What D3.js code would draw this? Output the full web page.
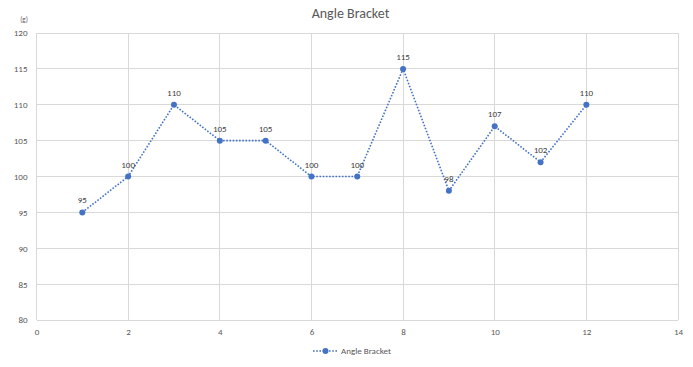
<!DOCTYPE html>
<html>
<head>
<meta charset="utf-8">
<script src="https://cdn.jsdelivr.net/npm/d3@7"></script>
<style>
  body { margin: 0; background: #fff; }
  svg { display: block; font-family: Calibri, Carlito, "Open Sans", "Liberation Sans", sans-serif; }
</style>
</head>
<body>
<svg id="chart" width="693" height="367"></svg>
<script>
// Weight measurements of the angle bracket, per sample number
const samples = [1, 2, 3, 4, 5, 6, 7, 8, 9, 10, 11, 12];
const weights = [95, 100, 110, 105, 105, 100, 100, 115, 98, 107, 102, 110];
const xTicks = [0, 2, 4, 6, 8, 10, 12, 14];
const yTicks = [80, 85, 90, 95, 100, 105, 110, 115, 120];
const seriesName = "Angle Bracket";
const unitLabel = "(g)";

const svg = d3.select("#chart");
const W = 693, H = 367;
const m = { left: 36.5, right: 15, top: 33, bottom: 47 };

const x = d3.scaleLinear().domain([0, 14]).range([m.left, W - m.right]);
const y = d3.scaleLinear().domain([80, 120]).range([H - m.bottom, m.top]);

const gridColor = "#d9d9d9";
const textColor = "#595959";
const lineColor = "#4472C4";

// Gridlines
svg.append("g").selectAll("line.h").data(yTicks).join("line")
  .attr("x1", x(0)).attr("x2", x(14))
  .attr("y1", d => y(d)).attr("y2", d => y(d))
  .attr("stroke", gridColor).attr("stroke-width", 1)
  .attr("shape-rendering", "crispEdges");
svg.append("g").selectAll("line.v").data(xTicks).join("line")
  .attr("x1", d => x(d)).attr("x2", d => x(d))
  .attr("y1", y(80)).attr("y2", y(120))
  .attr("stroke", gridColor).attr("stroke-width", 1)
  .attr("shape-rendering", "crispEdges");

// Axes (labels only)
const xAxis = svg.append("g").attr("transform", `translate(0,${y(80)})`)
  .call(d3.axisBottom(x).tickValues(xTicks).tickSize(0).tickPadding(9));
const yAxis = svg.append("g").attr("transform", `translate(${x(0)},0)`)
  .call(d3.axisLeft(y).tickValues(yTicks).tickSize(0).tickPadding(9));
[xAxis, yAxis].forEach(a => {
  a.select(".domain").remove();
  a.selectAll("text").attr("fill", textColor).style("font-size", "9px")
    .style("font-family", "Calibri, Carlito, 'Open Sans', 'Liberation Sans', sans-serif");
});

// Title and unit
svg.append("text").attr("x", W / 2 + 4).attr("y", 18)
  .attr("text-anchor", "middle").attr("fill", textColor)
  .style("font-size", "14px").text(seriesName);
svg.append("text").attr("x", 24).attr("y", 22)
  .attr("text-anchor", "middle").attr("fill", textColor)
  .style("font-size", "7px").text(unitLabel);

// Series line
const pts = samples.map((s, i) => ({ s, v: weights[i] }));
svg.append("path").datum(pts)
  .attr("d", d3.line().x(d => x(d.s)).y(d => y(d.v)))
  .attr("fill", "none").attr("stroke", lineColor)
  .attr("stroke-width", 1.6).attr("stroke-dasharray", "1.6,1.6");

svg.append("g").selectAll("circle").data(pts).join("circle")
  .attr("cx", d => x(d.s)).attr("cy", d => y(d.v)).attr("r", 3)
  .attr("fill", lineColor);

// Data labels
svg.append("g").selectAll("text").data(pts).join("text")
  .attr("x", d => x(d.s)).attr("y", d => y(d.v) - 9)
  .attr("text-anchor", "middle").attr("fill", "#404040")
  .style("font-size", "9px").text(d => d.v);

// Legend
const lg = svg.append("g").attr("transform", "translate(313,351)");
lg.append("line").attr("x1", 0).attr("x2", 25).attr("y1", 0).attr("y2", 0)
  .attr("stroke", lineColor).attr("stroke-width", 1.6).attr("stroke-dasharray", "1.6,1.6");
lg.append("circle").attr("cx", 12.5).attr("cy", 0).attr("r", 3).attr("fill", lineColor);
lg.append("text").attr("x", 28).attr("y", 3).attr("fill", textColor)
  .style("font-size", "9px").text(seriesName);
</script>
</body>
</html>
